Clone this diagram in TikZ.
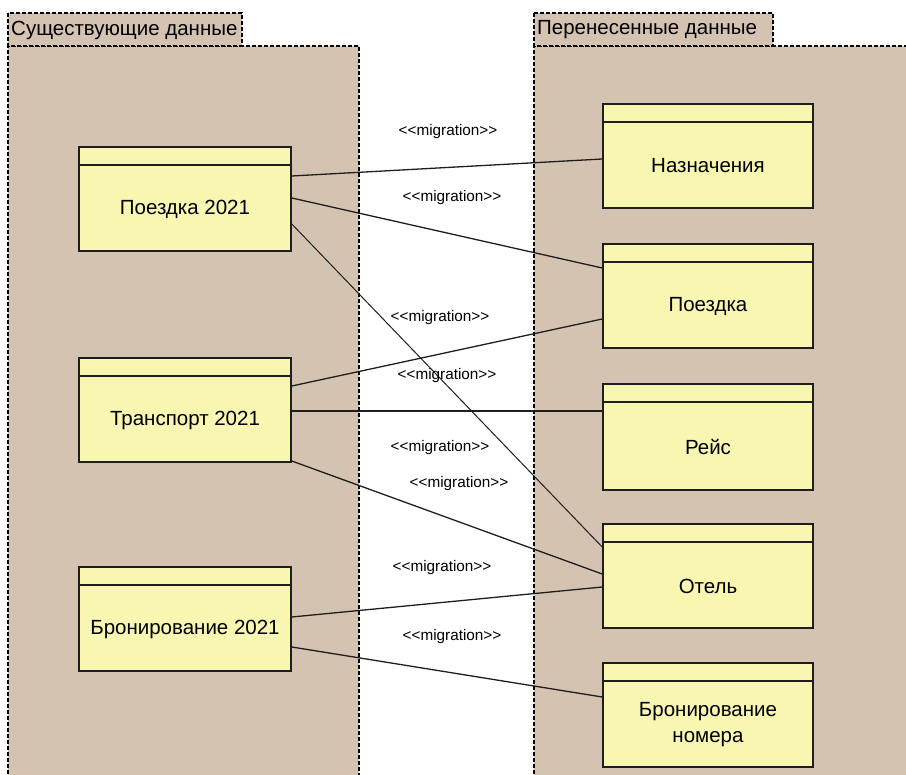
\documentclass[tikz,border=0pt]{standalone}
\usepackage{fontspec}
\setmainfont{Liberation Sans}
\usetikzlibrary{calc}
\definecolor{pkgfill}{RGB}{213,195,178}
\definecolor{boxfill}{RGB}{249,246,177}
\definecolor{linec}{RGB}{30,30,30}
\tikzset{
  pkgline/.style={draw=black, line width=1.1pt, dash pattern=on 4pt off 2pt},
  tabtext/.style={inner sep=0pt, anchor=west, font=\fontsize{20.5}{24}\selectfont},
  umlbox/.style={draw=linec, fill=boxfill, line width=1.6pt, minimum width=212pt, minimum height=104pt, inner sep=0pt,
    path picture={\draw[linec, line width=1.6pt] ([yshift=-18pt]path picture bounding box.north west) -- ([yshift=-18pt]path picture bounding box.north east);}},
  boxtext/.style={inner sep=0pt, align=center, font=\fontsize{20.5}{26}\selectfont},
  mig/.style={inner sep=0pt, font=\fontsize{15.3}{18}\selectfont, text=black},
  conn/.style={draw=linec, line width=1.3pt},
}
\begin{document}
\begin{tikzpicture}[x=1pt, y=-1pt]
\useasboundingbox (0,0) rectangle (906,775);
% left package
\fill[pkgfill] (8,46) rectangle (359,780);
\draw[pkgline] (8,780) -- (8,46) -- (359,46) -- (359,780);
\filldraw[pkgfill, pkgline] (8,13) rectangle (242,46);
\node[tabtext] (ltab) at (11,30) {Существующие данные};
% right package
\fill[pkgfill] (534,46) rectangle (912,780);
\draw[pkgline] (534,780) -- (534,46) -- (912,46);
\filldraw[pkgfill, pkgline] (534,13) rectangle (773,46);
\node[tabtext] (rtab) at (537,30) {Перенесенные данные};
% left boxes
\node[umlbox] (a) at (185,199) {};
\node[boxtext] (at) at ([yshift=-10pt]a.center) {Поездка 2021};
\node[umlbox] (b) at (185,410) {};
\node[boxtext] (bt) at ([yshift=-10pt]b.center) {Транспорт 2021};
\node[umlbox] (c) at (185,619) {};
\node[boxtext] (ct) at ([yshift=-10pt]c.center) {Бронирование 2021};
% right boxes
\node[umlbox, minimum width=210pt] (r1) at (708,156) {};
\node[boxtext] (r1t) at ([yshift=-10pt]r1.center) {Назначения};
\node[umlbox, minimum width=210pt] (r2) at (708,296) {};
\node[boxtext] (r2t) at ([yshift=-10pt]r2.center) {Поездка};
\node[umlbox, minimum width=210pt, minimum height=106pt] (r3) at (708,437) {};
\node[boxtext] (r3t) at ([yshift=-10pt]r3.center) {Рейс};
\node[umlbox, minimum width=210pt] (r4) at (708,576) {};
\node[boxtext] (r4t) at ([yshift=-10pt]r4.center) {Отель};
\node[umlbox, minimum width=210pt] (r5) at (708,715) {};
\node[boxtext] (r5t) at ([yshift=-10pt]r5.center) {Бронирование\\номера};
% connectors
\draw[conn] ([yshift=23pt]a.east) -- ([yshift=-3pt]r1.west);
\draw[conn] ([yshift=1pt]a.east) -- ([yshift=28pt]r2.west);
\draw[conn, line width=1pt] ([yshift=-25pt]a.east) -- ([yshift=29pt]r4.west);
\draw[conn] ([yshift=24pt]b.east) -- ([yshift=-23pt]r2.west);
\draw[conn] ([yshift=-1pt]b.east) -- ([yshift=26pt]r3.west);
\draw[conn] ([yshift=-51pt]b.east) -- ([yshift=2pt]r4.west);
\draw[conn] ([yshift=2pt]c.east) -- ([yshift=-11pt]r4.west);
\draw[conn] ([yshift=-28pt]c.east) -- ([yshift=18pt]r5.west);
% labels
\node[mig] (m1) at (448,132) {<{}<migration>{}>};
\node[mig] (m2) at (452,198) {<{}<migration>{}>};
\node[mig] (m3) at (440,318) {<{}<migration>{}>};
\node[mig] (m4) at (447,376) {<{}<migration>{}>};
\node[mig] (m5) at (440,448) {<{}<migration>{}>};
\node[mig] (m6) at (459,484) {<{}<migration>{}>};
\node[mig] (m7) at (442,568) {<{}<migration>{}>};
\node[mig] (m8) at (452,637) {<{}<migration>{}>};
\end{tikzpicture}
\end{document}
